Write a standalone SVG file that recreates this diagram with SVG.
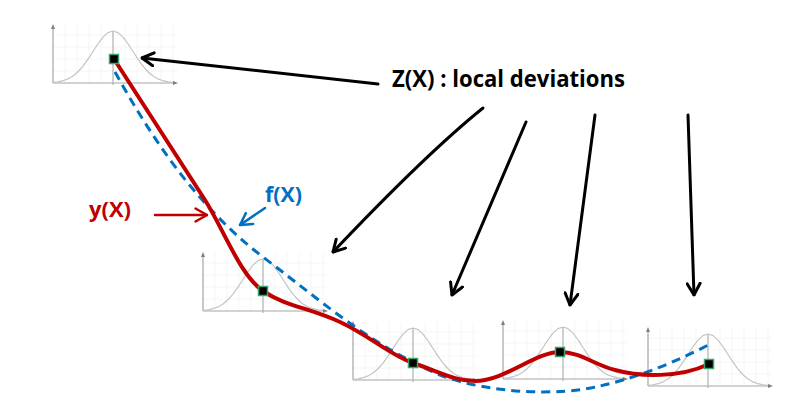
<svg xmlns="http://www.w3.org/2000/svg" xmlns:xlink="http://www.w3.org/1999/xlink" width="802" height="419" viewBox="0 0 802 419">
<style>
.grid{stroke:#f5f5f5;stroke-width:1;fill:none}
.axis{stroke:#a6a6a6;stroke-width:1.2;fill:none}
.axhead{fill:#7f7f7f}
.bell{stroke:#c4c4c4;stroke-width:1.2;fill:none;stroke-linejoin:round}
.stem{stroke:#b0b0b0;stroke-width:1.2}
.pt{fill:#000;stroke:#3aa56a;stroke-width:1.5}
.ycurve{fill:none;stroke:#c00000;stroke-width:4;stroke-linecap:round;stroke-linejoin:round}
.fcurve{fill:none;stroke:#0070c0;stroke-width:3;stroke-dasharray:9 6}
.arrk{fill:none;stroke:#000;stroke-width:3;stroke-linecap:round}
.arrr{fill:none;stroke:#c00000;stroke-width:2.5;stroke-linecap:round}
.arrb{fill:none;stroke:#0070c0;stroke-width:2.5;stroke-linecap:round}
.lbl{font-family:"Open Sans","Liberation Sans",sans-serif;font-weight:bold}
</style>
<defs>
<marker id="ah-k" viewBox="0 0 14 16" refX="13" refY="8" markerWidth="14" markerHeight="16" markerUnits="userSpaceOnUse" orient="auto">
<path d="M1.5,1.5 L13,8 L1.5,14.5" fill="none" stroke="#000" stroke-width="3" stroke-linecap="round" stroke-linejoin="round"/>
</marker>
<marker id="ah-r" viewBox="0 0 14 16" refX="13" refY="8" markerWidth="14" markerHeight="16" markerUnits="userSpaceOnUse" orient="auto">
<path d="M1.5,1.5 L13,8 L1.5,14.5" fill="none" stroke="#c00000" stroke-width="2.5" stroke-linecap="round" stroke-linejoin="round"/>
</marker>
<marker id="ah-b" viewBox="0 0 14 16" refX="13" refY="8" markerWidth="14" markerHeight="16" markerUnits="userSpaceOnUse" orient="auto">
<path d="M1.5,1.5 L13,8 L1.5,14.5" fill="none" stroke="#0070c0" stroke-width="2.5" stroke-linecap="round" stroke-linejoin="round"/>
</marker>
<g id="gauss">
<path class="grid" d="M12,-58V0M24,-58V0M36,-58V0M48,-58V0M72,-58V0M84,-58V0M96,-58V0M108,-58V0M120,-58V0M0,-12H124M0,-24H124M0,-36H124M0,-48H124"/>
<path class="axis" d="M0,0V-57M0,0H123"/>
<polygon class="axhead" points="-2,-54 0,-59 2,-54"/>
<polygon class="axhead" points="120,-2 125,0 120,2"/>
<path class="stem" d="M60,-52V2"/>
<path class="bell" d="M0,-0.6 L5,-1.2 L10,-2.3 L15,-4.1 L20,-7 L25,-11.25 L30,-16.9 L35,-23.8 L40,-31.5 L45,-39.25 L50,-45.9 L55,-50.4 L60,-52 L65,-50.4 L70,-45.9 L75,-39.25 L80,-31.5 L85,-23.8 L90,-16.9 L95,-11.25 L100,-7 L105,-4.1 L110,-2.3 L115,-1.2 L120,-0.6"/>
</g>
</defs>
<rect width="802" height="419" fill="#fff"/>

<g id="gaussians">
<g id="gauss-1" transform="translate(53,83)"><use xlink:href="#gauss" href="#gauss"/></g>
<g id="gauss-2" transform="translate(203,311)"><use xlink:href="#gauss" href="#gauss"/></g>
<g id="gauss-3" transform="translate(353,380)"><use xlink:href="#gauss" href="#gauss"/></g>
<g id="gauss-4" transform="translate(503,379)"><use xlink:href="#gauss" href="#gauss"/></g>
<g id="gauss-5" transform="translate(648,386)"><use xlink:href="#gauss" href="#gauss"/></g>
</g>

<g id="curves">
<path id="f-curve" class="fcurve" d="M115,72 C150,135 195,205 263,257 C320,300 370,345 440,375 C490,394 560,396 600,386 C640,377 680,360 712,343"/>
<path id="y-curve" class="ycurve" d="M114,59 L205,200 C225,232 240,275 263,291 C285,306 310,308 340,322 C370,336 390,355 413,363 C440,372 455,381 475,381 C505,381 535,352 560,352 C580,352 595,365 615,370 C640,377 680,378 709,364"/>
</g>

<g id="points">
<g id="pt-1"><rect class="pt" x="109.5" y="54.5" width="9" height="9"/></g>
<g id="pt-2"><rect class="pt" x="258.5" y="286.5" width="9" height="9"/></g>
<g id="pt-3"><rect class="pt" x="408.5" y="358.5" width="9" height="9"/></g>
<g id="pt-4"><rect class="pt" x="555.5" y="347.5" width="9" height="9"/></g>
<g id="pt-5"><rect class="pt" x="704.5" y="359.5" width="9" height="9"/></g>
</g>

<g id="connectors">
<path class="arrk" d="M378,84 L142,58" marker-end="url(#ah-k)"/>
<path class="arrk" d="M483,108 Q426,154 333,252" marker-end="url(#ah-k)"/>
<path class="arrk" d="M526,122 L452,295" marker-end="url(#ah-k)"/>
<path class="arrk" d="M595,115 L570,305" marker-end="url(#ah-k)"/>
<path class="arrk" d="M688,115 L694,295" marker-end="url(#ah-k)"/>
<path class="arrr" d="M155,215 L207,215" marker-end="url(#ah-r)"/>
<path class="arrb" d="M265,208 L240,225" marker-end="url(#ah-b)"/>
</g>

<g id="labels">
<text class="lbl" x="392" y="87" font-size="24" fill="#000" textLength="233" lengthAdjust="spacingAndGlyphs">Z(X) : local deviations</text>
<text class="lbl" x="89" y="217" font-size="21" fill="#c00000" textLength="42" lengthAdjust="spacingAndGlyphs">y(X)</text>
<text class="lbl" x="265" y="202" font-size="21" fill="#0070c0" textLength="37" lengthAdjust="spacingAndGlyphs">f(X)</text>
</g>
</svg>
